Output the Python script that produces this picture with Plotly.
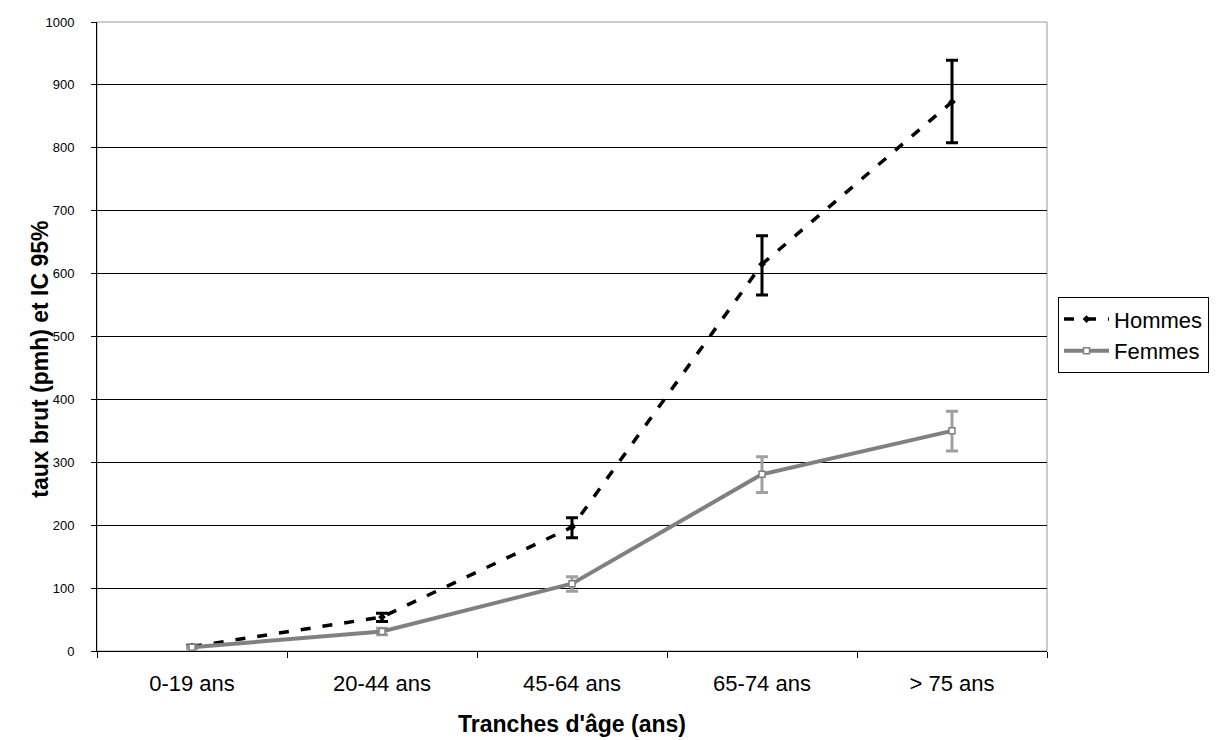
import plotly.graph_objects as go

categories = ["0-19 ans", "20-44 ans", "45-64 ans", "65-74 ans", "> 75 ans"]

hommes = [7, 54, 197, 615, 873]
hommes_hi = [9, 60, 212, 660, 939]
hommes_lo = [5, 47, 180, 566, 808]

femmes = [6, 31, 107, 281, 350]
femmes_hi = [8, 36, 118, 309, 381]
femmes_lo = [4, 26, 95, 252, 318]

yticks = list(range(0, 1001, 100))

fig = go.Figure()

fig.add_trace(go.Scatter(
    x=categories, y=hommes, name="Hommes", mode="lines+markers",
    line=dict(color="black", width=3.5, dash="10px,12px"),
    marker=dict(symbol="diamond", size=6, color="black"),
    error_y=dict(type="data", symmetric=False,
                 array=[h - v for h, v in zip(hommes_hi, hommes)],
                 arrayminus=[v - l for v, l in zip(hommes, hommes_lo)],
                 color="black", thickness=3, width=6),
))
fig.add_trace(go.Scatter(
    x=categories, y=femmes, name="Femmes", mode="lines+markers",
    line=dict(color="#808080", width=4),
    marker=dict(symbol="square", size=6, color="white",
                line=dict(color="#808080", width=1.5)),
    error_y=dict(type="data", symmetric=False,
                 array=[h - v for h, v in zip(femmes_hi, femmes)],
                 arrayminus=[v - l for v, l in zip(femmes, femmes_lo)],
                 color="#a0a0a0", thickness=3, width=6),
))

fig.add_shape(type="rect", xref="paper", yref="paper", x0=0, y0=0, x1=1, y1=1,
              line=dict(color="#999999", width=1), layer="below")

fig.add_annotation(text="<b>taux brut (pmh) et IC 95%</b>", textangle=-90,
                   xref="paper", yref="paper", x=-0.06, y=0.463,
                   xanchor="center", yanchor="middle", showarrow=False,
                   font=dict(size=23, color="black"))

fig.update_layout(
    width=1221, height=740,
    margin=dict(l=97, r=174, t=22, b=89, autoexpand=False),
    paper_bgcolor="white", plot_bgcolor="white",
    font=dict(family="Liberation Sans, Arial, sans-serif", color="black"),
    showlegend=True,
    legend=dict(x=1.0116, y=0.502, xanchor="left", yanchor="middle",
                bordercolor="black", borderwidth=1,
                font=dict(size=22, color="black"),
                tracegroupgap=0, itemwidth=45),
    xaxis=dict(type="category", categoryorder="array", categoryarray=categories,
               range=[-0.5, 4.5], tickson="boundaries", ticks="outside",
               ticklen=6, tickcolor="black", showline=True, linecolor="black",
               linewidth=1, showgrid=False, tickfont=dict(size=22),
               ticklabelstandoff=13, automargin=False,
               title=dict(text="<b>Tranches d'âge (ans)</b>",
                          font=dict(size=23), standoff=20)),
    yaxis=dict(range=[0, 1000], tickvals=yticks, ticks="outside", ticklen=5,
               tickcolor="black", showline=True, linecolor="black",
               linewidth=1, showgrid=True, gridcolor="black", gridwidth=1,
               zeroline=False, tickfont=dict(size=13), ticklabelstandoff=14,
               automargin=False),
)

fig.write_html("out.html")
